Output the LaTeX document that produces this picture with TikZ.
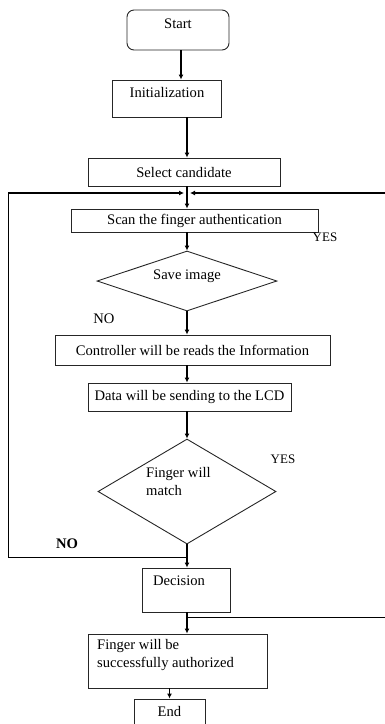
\documentclass[tikz,border=0pt]{standalone}
\usepackage{fontspec}
\setmainfont{Liberation Serif}
\usetikzlibrary{shapes.geometric,arrows.meta}
\tikzset{
  box/.style={draw=black!85, line width=0.9pt, inner sep=0pt, font=\fontsize{14.6}{18}\selectfont},
  choice/.style={box, diamond},
  txt/.style={inner sep=0pt, font=\fontsize{14.6}{18}\selectfont},
  tag/.style={inner sep=0pt, font=\fontsize{13}{15}\selectfont},
  flow/.style={line width=1.8pt, -{Latex[length=5pt,width=5pt]}},
  loopline/.style={line width=0.9pt},
}
\begin{document}
\begin{tikzpicture}[x=1pt,y=-1pt]
\useasboundingbox (0,0) rectangle (385,724);
% boxes:
\node[box, rounded corners=7pt, minimum width=102, minimum height=40] (start) at (178,30) {};
\node[txt] (startt) at (178,24) {Start};
\node[box, minimum width=109, minimum height=37] (init) at (166.5,98.5) {};
\node[txt] (initt) at (167,93) {Initialization};
\node[box, minimum width=192, minimum height=28] (select) at (184,172) {Select candidate};
\node[box, minimum width=247, minimum height=23] (scan) at (194.5,220.5) {Scan the finger authentication};
\node[choice, minimum width=180, minimum height=60] (save) at (187,281) {};
\node[txt] (savet) at (187,276) {Save image};
\node[box, minimum width=275, minimum height=30] (ctrl) at (192.5,350) {Controller will be reads the Information};
\node[box, minimum width=203, minimum height=28] (data) at (189.5,397) {Data will be sending to the LCD};
\node[choice, minimum width=178, minimum height=105] (match) at (187,491.5) {};
\node[txt, anchor=west, align=left] (matcht) at (146,481) {Finger will\\match};
\node[box, minimum width=88, minimum height=44] (dec) at (186,590) {};
\node[txt] (dect) at (179,581) {Decision};
\node[box, minimum width=179, minimum height=54] (auth) at (177.5,661) {};
\node[txt, anchor=west, align=left] (autht) at (97,655) {Finger will be\\successfully authorized};
\node[box, minimum width=71, minimum height=50] (end) at (169.5,724) {};
\node[txt] (endt) at (169.5,711) {End};
% labels:
\node[tag] (yes1) at (325,237) {YES};
\node[txt] (no1) at (104,319) {NO};
\node[tag] (yes2) at (283,459) {YES};
\node[txt, font=\fontsize{14.6}{18}\selectfont\bfseries] (no2) at (67,544) {NO};
% connectors:
\coordinate (spine) at (187,0);
\coordinate (tl) at (8,193);
\coordinate (tr) at (385,193);
\coordinate (bl) at (8,557);
\coordinate (dr) at (385,617);
\coordinate (mergeL) at (184,193);
\coordinate (mergeR) at (190,193);
\draw[flow] (start.south -| 181,0) -- (init.north -| 181,0);
\draw[flow] (init.south -| spine) -- (select.north -| spine);
\draw[flow] (select.south -| spine) -- (scan.north -| spine);
\draw[flow] (scan.south -| spine) -- (save.north);
\draw[flow] (save.south) -- (ctrl.north -| spine);
\draw[flow] (ctrl.south -| spine) -- (data.north -| spine);
\draw[flow] (data.south -| spine) -- (match.north);
\draw[flow] (match.south) -- (dec.north -| spine);
\draw[flow] (dec.south -| spine) -- (auth.north -| spine);
\draw[flow] (auth.south -| end.north) -- (end.north);
\draw[loopline] (match.south |- bl) -- (bl) -- (tl);
\draw[flow] (tl) -- (mergeL);
\draw[flow] (tr) -- (mergeR);
\draw[loopline] (spine |- dr) -- (dr);
\end{tikzpicture}
\end{document}
